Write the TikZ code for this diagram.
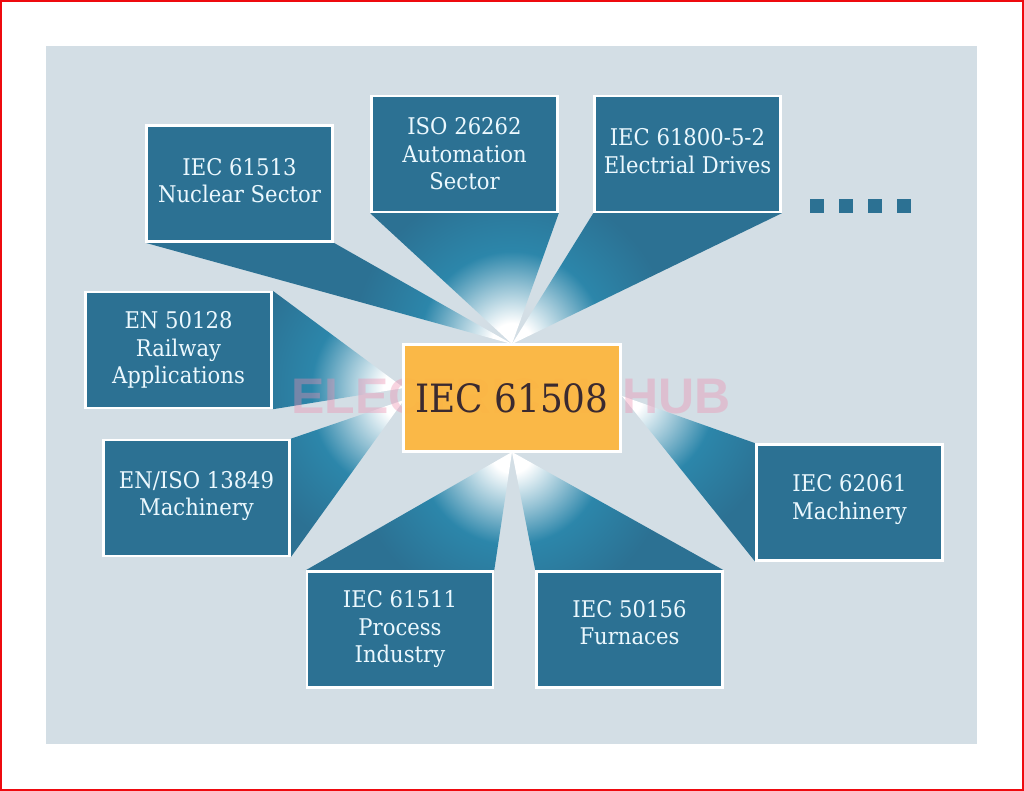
\documentclass[tikz,border=0pt]{standalone}
\usepackage{fontspec}
\setmainfont{DejaVu Serif}[FakeStretch=0.92]
\setsansfont{Liberation Sans}
\usetikzlibrary{positioning, backgrounds}

\definecolor{panelblue}{HTML}{D3DEE5}
\definecolor{boxteal}{HTML}{2C7193}
\definecolor{glowteal}{HTML}{2C86AA}
\definecolor{hubamber}{HTML}{FDB63C}
\definecolor{hubink}{HTML}{3A2A30}
\definecolor{framered}{HTML}{EE0A0F}
\definecolor{wmarkpink}{HTML}{EE8FB0}

\pgfdeclareradialshading{fanglow}{\pgfpoint{0bp}{0bp}}{%
  color(0bp)=(white); color(1.3bp)=(white); color(3.6bp)=(glowteal!50!white);
  color(5.8bp)=(glowteal); color(10bp)=(boxteal); color(50bp)=(boxteal)}

% two lines of a box, raised without changing the box
\newcommand{\liftlines}[3]{\raisebox{#1}[\height][\depth]{#2}\\\raisebox{#1}[\height][\depth]{#3}}

\tikzset{
  stdbox/.style={draw=white, line width=2.5pt, fill=boxteal, text=white!92!cyan,
    minimum width=186pt, minimum height=116pt, align=center, inner sep=0pt,
    font=\fontsize{23}{27.5}\selectfont},
  hubbox/.style={draw=white, line width=2.5pt, fill=hubamber, fill opacity=0.93,
    text opacity=1, draw opacity=1, text=hubink, minimum width=217pt,
    minimum height=107pt, inner sep=0pt, font=\fontsize{39}{46}\selectfont},
  dotbox/.style={fill=boxteal, minimum size=14pt, inner sep=0pt},
  wmark/.style={text=wmarkpink, opacity=0.38, inner sep=0pt,
    font=\sffamily\bfseries\fontsize{50}{50}\selectfont}
}

\begin{document}
\begin{tikzpicture}[x=1pt, y=-1pt, on grid]
    \useasboundingbox (0,0) rectangle (1024,791);

    % Nodes
    \node[hubbox] (hub) at (512,398) {IEC 61508};

    % Upper row
    \node[stdbox, above left=214.5pt and 272.5pt of hub] (nuclear) {\liftlines{3pt}{IEC 61513}{Nuclear Sector}};
    \node[stdbox, above left=244pt and 47.5pt of hub] (automation) {ISO 26262\\Automation\\Sector};
    \node[stdbox, above right=244pt and 175.5pt of hub] (drives) {\liftlines{3pt}{IEC 61800-5-2}{Electrial Drives}};

    % Left side
    \node[stdbox, above left=48pt and 333.5pt of hub] (railway) {EN 50128\\Railway\\Applications};
    \node[stdbox, below left=100pt and 315.5pt of hub] (enmachinery) {\liftlines{2pt}{EN/ISO 13849}{Machinery}};

    % Right side
    \node[stdbox, below right=104.5pt and 337.5pt of hub] (iecmachinery) {\liftlines{3pt}{IEC 62061}{Machinery}};

    % Lower row
    \node[stdbox, below left=231.5pt and 112pt of hub] (process) {IEC 61511\\Process\\Industry};
    \node[stdbox, below right=231.5pt and 117.5pt of hub] (furnaces) {\liftlines{7pt}{IEC 50156}{Furnaces}};

    % Tips of the fans
    \coordinate (tiptop) at (512,344);
    \coordinate (tipbottom) at (512,452);
    \coordinate (tipright) at (622,396);
    \coordinate (tiprail) at (404,388);
    \coordinate (tipmach) at (404,400);

    % Frame, panel, fans and watermark go behind the nodes
    \begin{pgfonlayer}{background}
    \fill[white] (0,0) rectangle (1024,791);
    \draw[framered, line width=2.5pt] (1,1) rectangle (1023,790);
    \fill[panelblue] (46,46) rectangle (977,744);

    \foreach \boxname/\cornera/\cornerb/\tipname in {
        nuclear/south west/south east/tiptop,
        automation/south west/south east/tiptop,
        drives/south west/south east/tiptop,
        railway/north east/south east/tiprail,
        enmachinery/north east/south east/tipmach,
        iecmachinery/north west/south west/tipright,
        process/north west/north east/tipbottom,
        furnaces/north west/north east/tipbottom} {
        \begin{scope}
            \clip (\boxname.\cornera) -- (\boxname.\cornerb) -- (\tipname) -- cycle;
            \shade[shading=fanglow] (\tipname) circle (400pt);
        \end{scope}
    }

    \node[wmark] (watermark) at (511,396) {ELECTRICAL HUB};
    \end{pgfonlayer}

    % Dots
    \foreach \i/\x in {1/817, 2/846, 3/875, 4/904}
        \node[dotbox] (dot\i) at (\x,206) {};
\end{tikzpicture}
\end{document}
